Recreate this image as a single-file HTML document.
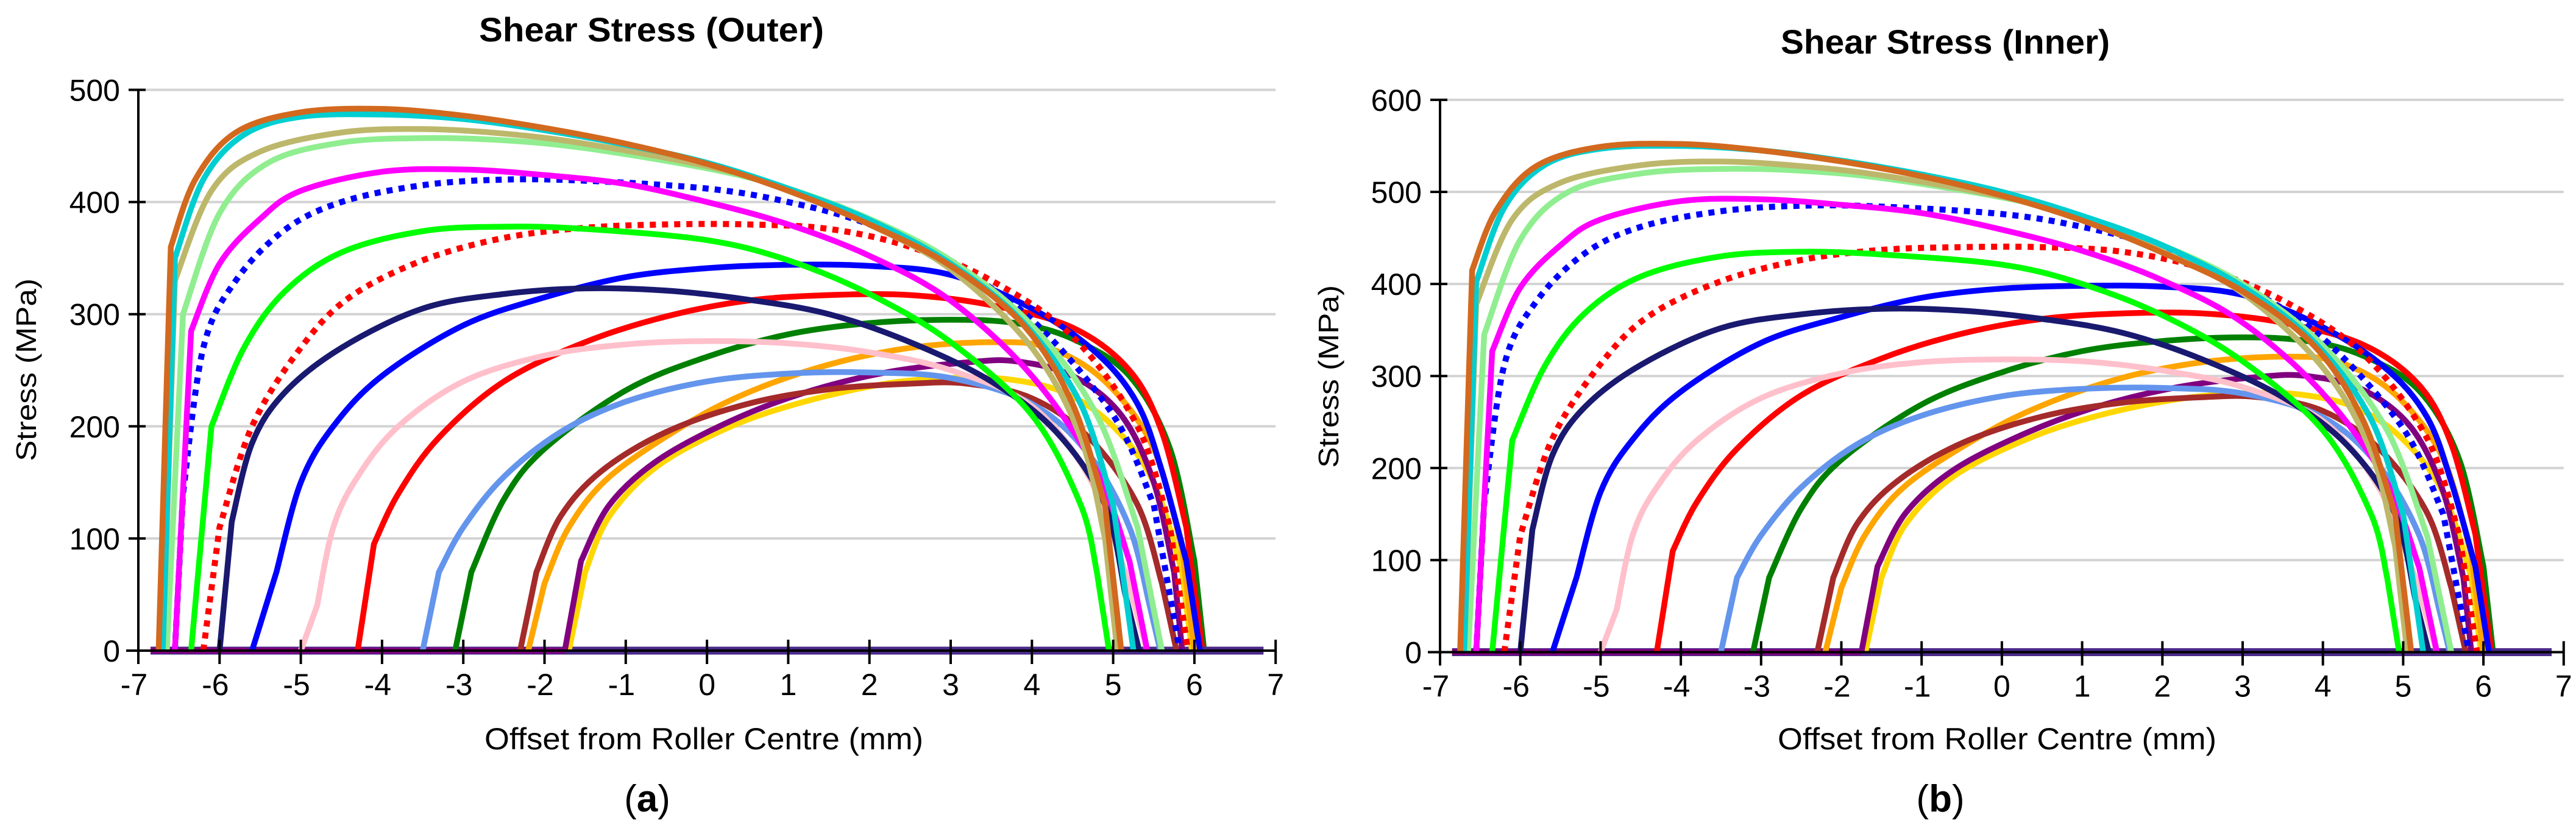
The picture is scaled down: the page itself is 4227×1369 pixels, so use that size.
<!DOCTYPE html>
<html><head><meta charset="utf-8"><style>
html,body{margin:0;padding:0;background:#fff;}
svg{display:block;}
text{font-family:"Liberation Sans",sans-serif;fill:#000;}
</style></head>
<body>
<svg id="fig" xmlns="http://www.w3.org/2000/svg" width="4227" height="1369" viewBox="0 0 4227 1369">
<rect width="4227" height="1369" fill="#fff"/>
<g id="chartA"></g>
<g id="chartB"></g>
</svg>
<script>
const xTicks = [-7,-6,-5,-4,-3,-2,-1,0,1,2,3,4,5,6,7];
const yTicksA = [0,100,200,300,400,500];
const yTicksB = [0,100,200,300,400,500,600];
const seriesNames = ["gold","purple","orange","brown","dark-green","cornflower","red","pink","blue","navy","red-dotted","lime","blue-dotted","magenta","light-green","khaki","cyan","chocolate"];
const seriesColors = ["#FFD700","#800080","#FFA500","#A52A2A","#008000","#6495ED","#FF0000","#FFC0CB","#0000FF","#191970","#FF0000","#00FF00","#0000FF","#FF00FF","#90EE90","#BDB76B","#00CED1","#D2691E"];
const seriesDotted = [false,false,false,false,false,false,false,false,false,false,true,false,true,false,false,false,false,false];

const xsGold=[-1.7,-1.5,-1.2,-0.6,0.3,1.2,2.2,3.0,3.7,4.4,5.0,5.5,5.85,5.97];
const aGold=[0,70,120,165,200,222,238,243,242,230,200,150,70,0];
const bGold=[0,81,139,191,231,257,275,281,280,266,231,173,81,0];
const xsPurple=[-1.75,-1.55,-1.2,-0.6,0.3,1.2,2.2,3.2,3.8,4.5,5.1,5.5,5.75,5.85];
const aPurple=[0,80,130,170,205,230,248,257,258,245,210,150,70,0];
const bPurple=[0,93,151,198,238,267,288,299,300,285,244,174,81,0];
const xsOrange=[-2.2,-2.0,-1.7,-1.2,-0.3,0.5,1.5,2.5,3.5,4.2,4.9,5.5,5.85,6.0];
const aOrange=[0,60,110,155,200,230,255,270,275,270,240,180,90,0];
const bOrange=[0,70,128,181,233,268,298,315,321,315,280,210,105,0];
const xsBrown=[-2.3,-2.1,-1.8,-1.3,-0.5,0.5,1.5,2.5,3.2,4,4.7,5.3,5.6,5.78];
const aBrown=[0,70,120,160,195,220,233,238,238,225,190,130,60,0];
const bBrown=[0,81,140,186,227,256,271,277,277,262,221,151,70,0];
const xsDGreen=[-3.1,-2.9,-2.5,-2,-1,0,1,2,3,3.8,4.5,5.2,5.7,6.0,6.12];
const aDGreen=[0,70,135,180,232,262,282,292,295,292,278,245,180,80,0];
const bDGreen=[0,81,156,209,269,304,327,338,342,338,322,284,209,93,0];
const xsCorn=[-3.5,-3.3,-3.0,-2.5,-1.8,-1,0,1,2,3,4,4.7,5.2,5.45,5.58];
const aCorn=[0,70,110,155,195,222,240,247,248,243,220,175,110,40,0];
const bCorn=[0,81,127,179,226,257,278,286,287,281,255,202,127,46,0];
const xsRed=[-4.3,-4.1,-3.8,-3.3,-2.5,-1.5,-0.5,0.5,1.5,2.5,3.5,4.5,5.2,5.6,5.9,6.1];
const aRed=[0,95,140,190,240,275,298,312,317,317,308,288,250,195,110,0];
const bRed=[0,110,163,221,279,319,346,362,368,368,358,334,290,226,128,0];
const xsPink=[-5.0,-4.8,-4.6,-4.3,-3.8,-3,-2,-1,0,1,2,3,4,4.7,5.15,5.42];
const aPink=[0,40,110,155,200,240,263,273,276,274,266,250,218,155,70,0];
const bPink=[0,46,127,179,230,276,303,315,318,316,306,288,251,178,81,0];
const xsBlue=[-5.6,-5.3,-5.0,-4.6,-4,-3,-2,-1,0,1,2,3,4,4.8,5.3,5.6,5.9,6.07];
const aBlue=[0,70,150,200,245,290,315,333,341,344,343,335,305,265,220,160,80,0];
const bBlue=[0,81,174,231,283,336,364,385,395,398,397,388,353,307,255,185,93,0];
const xsNavy=[-6.0,-5.85,-5.6,-5.2,-4.5,-3.5,-2.5,-1.5,-0.5,0.5,1.5,2.5,3.5,4.3,4.9,5.15,5.32];
const aNavy=[0,115,185,230,270,305,318,323,321,313,300,275,240,195,130,50,0];
const bNavy=[0,133,214,266,312,352,367,373,371,362,347,318,277,225,150,58,0];
const xsRedDot=[-6.2,-6.0,-5.6,-5.0,-4.4,-3.5,-2.5,-1.5,-0.5,0.5,1.5,2.5,3.5,4.5,5.3,5.7,5.92];
const aRedDot=[0,110,200,270,315,348,368,377,380,380,376,360,330,280,200,110,0];
const bRedDot=[0,127,232,313,365,403,426,437,440,440,435,417,382,324,232,127,0];
const xsLime=[-6.35,-6.1,-5.7,-5.2,-4.5,-3.5,-2.5,-1.5,0,1,2,3,4,4.6,4.8,4.95];
const aLime=[0,200,270,320,355,374,378,376,366,348,318,275,210,130,70,0];
const bLime=[0,230,310,368,408,430,435,432,421,400,366,316,241,150,81,0];
const xsBlueDot=[-6.55,-6.45,-6.2,-5.8,-5.2,-4.5,-3.5,-2.5,-1.5,0,1,2,3,4,5,5.5,5.82];
const aBlueDot=[0,140,270,330,375,400,415,420,419,412,400,380,345,295,210,130,0];
const bBlueDot=[0,162,312,381,433,462,479,485,484,476,462,439,398,341,243,150,0];
const xsMag=[-6.55,-6.35,-6,-5.5,-5,-4,-3,-2,-1,0,1,2,3,4,4.8,5.2,5.42];
const aMag=[0,285,345,385,410,427,429,424,416,400,380,352,312,245,160,80,0];
const bMag=[0,327,396,442,470,490,492,486,477,459,436,404,358,281,184,92,0];
const xsLGreen=[-6.65,-6.45,-6,-5.4,-4.5,-3.5,-2.5,-1.5,0,1,2,3,4,4.8,5.3,5.6];
const aLGreen=[0,300,390,435,453,457,455,448,430,412,385,348,290,210,110,0];
const bLGreen=[0,345,448,500,520,525,523,515,494,473,442,400,333,241,126,0];
const xsKhaki=[-6.7,-6.55,-6.1,-5.5,-4.5,-3.5,-2.5,-1.5,0,1,2,3,4,4.6,4.9,5.05];
const aKhaki=[0,330,410,445,462,465,461,452,432,412,380,340,270,190,100,0];
const bKhaki=[0,378,470,510,529,533,528,518,495,472,435,390,309,218,115,0];
const xsCyan=[-6.7,-6.55,-6.2,-5.7,-5,-4,-3,-2,-1,0,1,2,3,3.9,4.6,5.0,5.25];
const aCyan=[0,350,420,460,476,478,474,464,451,435,412,384,345,292,220,130,0];
const bCyan=[0,402,483,529,547,550,545,534,519,500,474,442,397,336,253,150,0];
const xsChoc=[-6.75,-6.6,-6.3,-5.8,-5,-4,-3,-2,-1,0,1,2,3,3.9,4.5,4.9,5.1];
const aChoc=[0,360,420,462,480,483,477,466,452,434,410,380,343,290,220,130,0];
const bChoc=[0,415,480,528,549,552,545,533,517,496,469,434,392,332,252,150,0];

const seriesX=[xsGold,xsPurple,xsOrange,xsBrown,xsDGreen,xsCorn,xsRed,xsPink,xsBlue,xsNavy,xsRedDot,xsLime,xsBlueDot,xsMag,xsLGreen,xsKhaki,xsCyan,xsChoc];
const seriesA=[aGold,aPurple,aOrange,aBrown,aDGreen,aCorn,aRed,aPink,aBlue,aNavy,aRedDot,aLime,aBlueDot,aMag,aLGreen,aKhaki,aCyan,aChoc];
const seriesB=[bGold,bPurple,bOrange,bBrown,bDGreen,bCorn,bRed,bPink,bBlue,bNavy,bRedDot,bLime,bBlueDot,bMag,bLGreen,bKhaki,bCyan,bChoc];

const NS="http://www.w3.org/2000/svg";
function mk(tag, attrs, parent){const e=document.createElementNS(NS,tag);for(const k in attrs)e.setAttribute(k,attrs[k]);parent.appendChild(e);return e;}

function draw(g, cfg, ys, yTicks){
  const X=v=>cfg.x0+(v+7)*cfg.pxmm;
  const Y=v=>cfg.y0-v*cfg.ppm;
  const xEnd=X(7);
  yTicks.forEach(t=>{
    if(t>0){const l=mk('line',{x1:X(-7),x2:xEnd,y1:Y(t),y2:Y(t),stroke:'#d3d3d3','stroke-width':4},g);
      
      }
    const tk=mk('line',{x1:X(-7)-16,x2:X(-7)+12,y1:Y(t),y2:Y(t),stroke:'#000','stroke-width':4},g);
    
    
    const tx=mk('text',{x:X(-7)-30,y:Y(t)+18,'font-size':50,'text-anchor':'end'},g);
    tx.textContent=t;
    
    
  });
  const zg=mk('g',{},g);
  
  
  mk('line',{x1:X(-6.85),x2:X(6.85),y1:Y(0),y2:Y(0),stroke:'#4b2a8a','stroke-width':13},zg);
  [8,6,4,2,1].forEach(i=>{
    mk('line',{x1:X(-6.85),x2:X(seriesX[i][0]),y1:Y(0),y2:Y(0),stroke:seriesColors[i],'stroke-width':10},zg);
  });
  for(let i=0;i<seriesX.length;i++){
    const xs=seriesX[i], yv=ys[i];
    const pts=xs.map((x,k)=>[X(x),Y(yv[k])]);
    const n=pts.length;
    // tangents: one-sided at corner points (index 1 and n-2)
    const tan=pts.map((p,k)=>{
      if(k===0||k===n-1) return [0,0];
      if(k===1) return [(pts[2][0]-pts[1][0])/2,(pts[2][1]-pts[1][1])/2];
      if(k===n-2) return [(pts[n-2][0]-pts[n-3][0])/2,(pts[n-2][1]-pts[n-3][1])/2];
      return [(pts[k+1][0]-pts[k-1][0])/2,(pts[k+1][1]-pts[k-1][1])/2];
    });
    let d='M'+pts[0][0].toFixed(1)+','+pts[0][1].toFixed(1)+' L'+pts[1][0].toFixed(1)+','+pts[1][1].toFixed(1);
    for(let k=1;k<n-2;k++){
      const p1=pts[k],p2=pts[k+1];
      const c1=[p1[0]+tan[k][0]/3,p1[1]+tan[k][1]/3];
      const c2=[p2[0]-tan[k+1][0]/3,p2[1]-tan[k+1][1]/3];
      d+=' C'+c1[0].toFixed(1)+','+c1[1].toFixed(1)+' '+c2[0].toFixed(1)+','+c2[1].toFixed(1)+' '+p2[0].toFixed(1)+','+p2[1].toFixed(1);
    }
    d+=' L'+pts[n-1][0].toFixed(1)+','+pts[n-1][1].toFixed(1);
    const p=mk('path',{d:d,fill:'none',stroke:seriesColors[i],'stroke-width':seriesDotted[i]?10:9.5,'stroke-linejoin':'round'},g);
    if(seriesDotted[i])p.setAttribute('stroke-dasharray','10 10');
    
    
  }
  const rt=mk('line',{x1:X(6.1),x2:X(6.85),y1:Y(0),y2:Y(0),stroke:'#4b2a8a','stroke-width':13},g);
  
  
  const ya=mk('line',{x1:X(-7),x2:X(-7),y1:Y(yTicks[yTicks.length-1]),y2:Y(0)+22,stroke:'#000','stroke-width':4},g);
  
  
  const xa=mk('line',{x1:X(-7)-20,x2:xEnd,y1:Y(0),y2:Y(0),stroke:'#000','stroke-width':4},g);
  
  
  xTicks.forEach(t=>{
    const tk=mk('line',{x1:X(t),x2:X(t),y1:Y(0)-18,y2:Y(0)+22,stroke:'#000','stroke-width':4},g);
    
    
    const tx=mk('text',{x:X(t)-(t<0?7:0),y:Y(0)+73,'font-size':50,'text-anchor':'middle'},g);
    tx.textContent=t;
    
    
  });
  const ti=mk('text',{x:cfg.tx,y:cfg.ty,'font-size':56,'font-weight':'bold','text-anchor':'middle',textLength:cfg.tw,lengthAdjust:'spacingAndGlyphs'},g);
  ti.textContent=cfg.title;
  
  
  const xt=mk('text',{x:cfg.xtx,y:1230,'font-size':50,'text-anchor':'middle',textLength:720,lengthAdjust:'spacingAndGlyphs'},g);
  xt.textContent='Offset from Roller Centre (mm)';
  
  
  const yt=mk('text',{x:0,y:0,'font-size':46,'text-anchor':'middle',textLength:300,lengthAdjust:'spacingAndGlyphs',transform:'translate('+(cfg.ytx+16)+','+cfg.yty+') rotate(-90)'},g);
  yt.textContent='Stress (MPa)';
  
  
  const cap=mk('text',{x:cfg.cx,y:1332,'font-size':62,'text-anchor':'middle','font-family':'Liberation Serif, serif'},g);
  cap.innerHTML='(<tspan font-weight="bold">'+cfg.cap+'</tspan>)';
  
  
}

draw(document.getElementById('chartA'),
  {x0:227,pxmm:133.3,y0:1068,ppm:1.841,title:'Shear Stress (Outer)',tx:1069,ty:68,tw:566,xtx:1155,ytx:43,yty:607,cx:1062,cap:'a'},
  seriesA,yTicksA);
draw(document.getElementById('chartB'),
  {x0:2363,pxmm:131.7,y0:1070.5,ppm:1.511,title:'Shear Stress (Inner)',tx:3192,ty:88,tw:540,xtx:3277,ytx:2180,yty:618,cx:3184,cap:'b'},
  seriesB,yTicksB);
</script>
</body></html>
